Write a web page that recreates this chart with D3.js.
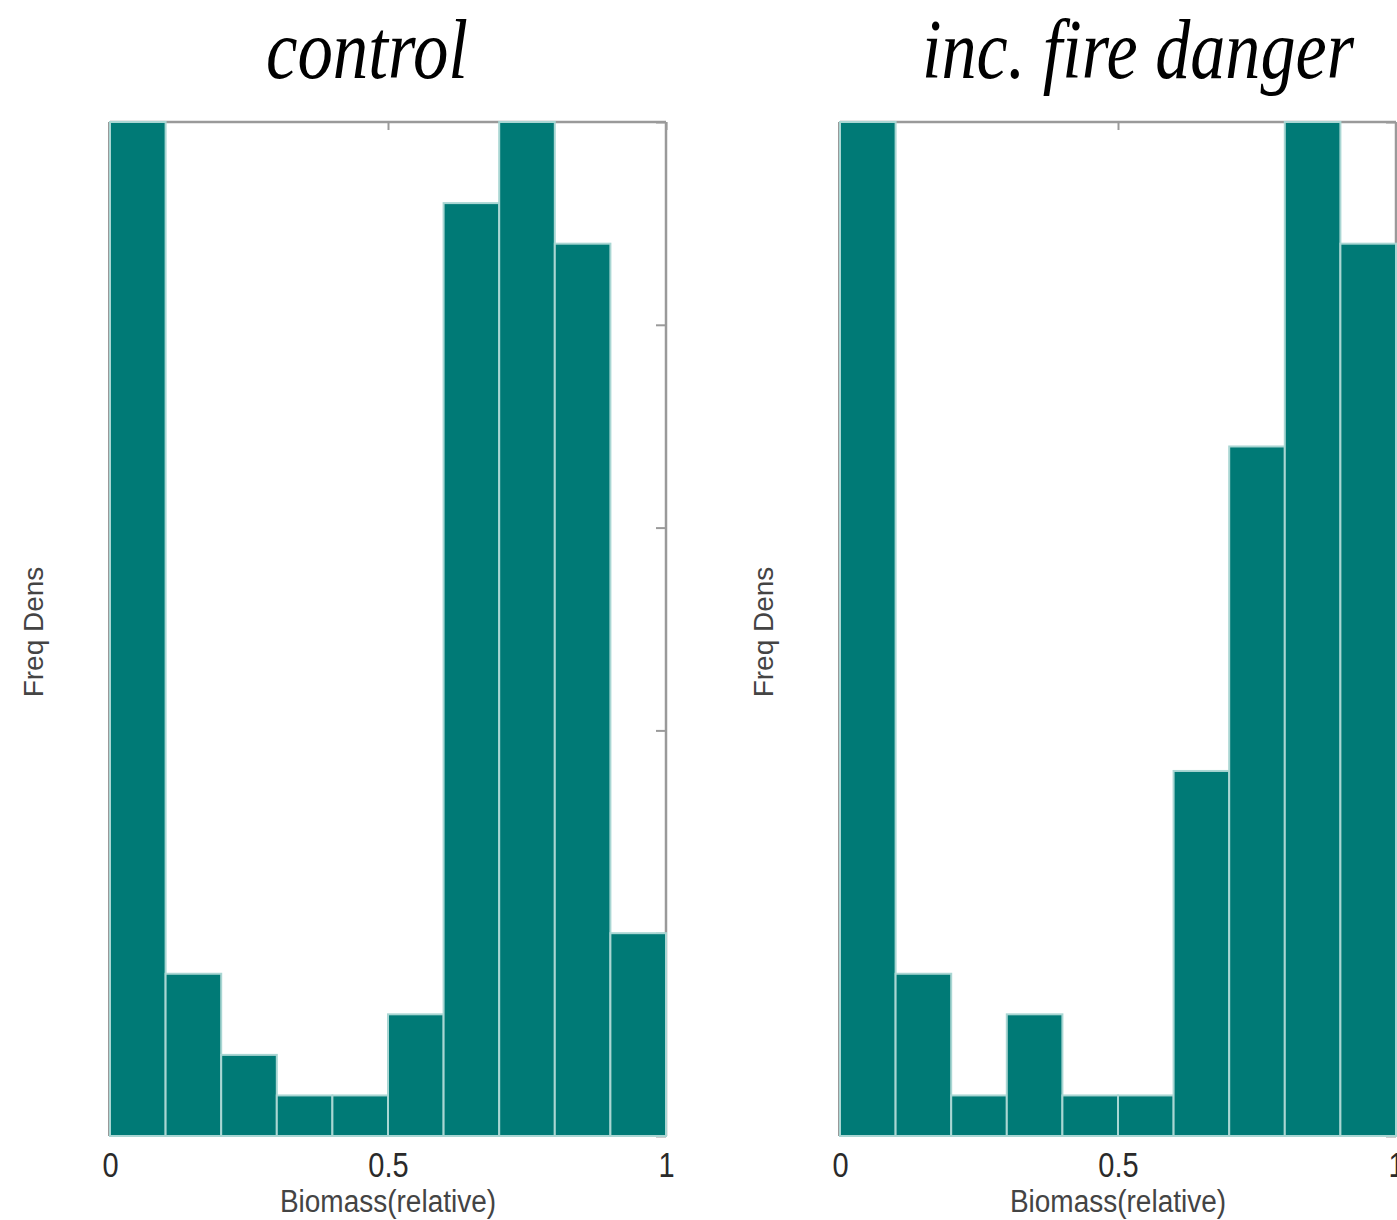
<!DOCTYPE html>
<html>
<head>
<meta charset="utf-8">
<script src="https://cdn.jsdelivr.net/npm/d3@7"></script>
<style>
  html, body { margin: 0; padding: 0; background: #fff; }
  svg { display: block; }
</style>
</head>
<body>
<svg id="chart" width="1397" height="1220"></svg>
<script>
// Histogram bins of relative biomass (10 equal bins on [0, 1])
const binEdges = [0, 0.1, 0.2, 0.3, 0.4, 0.5, 0.6, 0.7, 0.8, 0.9, 1.0];

// Frequency density per bin; bars that reach the top of the panel run off the axis range
const controlDensity = [2.5, 0.4, 0.2, 0.1, 0.1, 0.3, 2.3, 2.5, 2.2, 0.5];
const fireDensity    = [2.5, 0.4, 0.1, 0.3, 0.1, 0.1, 0.9, 1.7, 2.5, 2.2];

const panelTitles = ["control", "inc. fire danger"];
const xTickValues = [0, 0.5, 1];
const xTickLabels = ["0", "0.5", "1"];
const yTickValues = [0, 0.5, 1, 1.5, 2, 2.5];
const xLabel = "Biomass(relative)";
const yLabel = "Freq Dens";

const panels = [
  { title: panelTitles[0], values: controlDensity, left: 110 },
  { title: panelTitles[1], values: fireDensity, left: 840 }
];

const plotW = 556, plotTop = 122, plotBottom = 1136;
const barFill = "#007a76";
const frameColor = "#9a9a9a";

const svg = d3.select("#chart");

panels.forEach(p => {
  const x = d3.scaleLinear().domain([0, 1]).range([p.left, p.left + plotW]);
  const y = d3.scaleLinear().domain([0, 2.5]).range([plotBottom, plotTop]);

  const g = svg.append("g");

  // panel frame: top and right sides
  g.append("line")
    .attr("x1", x(0)).attr("x2", x(1))
    .attr("y1", y(2.5)).attr("y2", y(2.5))
    .attr("stroke", frameColor).attr("stroke-width", 2.5);
  g.append("line")
    .attr("x1", x(1)).attr("x2", x(1))
    .attr("y1", y(2.5)).attr("y2", y(0))
    .attr("stroke", frameColor).attr("stroke-width", 2.5);
  g.append("line")
    .attr("x1", x(0) - 1).attr("x2", x(0) - 1)
    .attr("y1", y(2.5)).attr("y2", y(0))
    .attr("stroke", "#777").attr("stroke-width", 1.5);

  // inward ticks on top and right sides
  const topAxis = g.append("g")
    .attr("transform", `translate(0,${y(2.5)})`)
    .call(d3.axisBottom(x).tickValues(xTickValues).tickSize(8).tickFormat(""));
  topAxis.select(".domain").remove();
  topAxis.selectAll(".tick line").attr("stroke", frameColor).attr("stroke-width", 2);

  const rightAxis = g.append("g")
    .attr("transform", `translate(${x(1)},0)`)
    .call(d3.axisLeft(y).tickValues(yTickValues).tickSize(10).tickFormat(""));
  rightAxis.select(".domain").remove();
  rightAxis.selectAll(".tick line").attr("stroke", frameColor).attr("stroke-width", 2);

  // histogram bars
  const bins = p.values.map((v, i) => ({ x0: binEdges[i], x1: binEdges[i + 1], v }));
  g.selectAll("rect.bar")
    .data(bins)
    .join("rect")
    .attr("class", "bar")
    .attr("x", d => x(d.x0))
    .attr("width", d => x(d.x1) - x(d.x0))
    .attr("y", d => y(Math.min(d.v, 2.5)))
    .attr("height", d => y(0) - y(Math.min(d.v, 2.5)))
    .attr("fill", barFill)
    .attr("stroke", "#a9d6d3")
    .attr("stroke-width", 2);

  // bottom tick labels
  const bottomAxis = g.append("g")
    .attr("transform", `translate(0,${y(0)})`)
    .call(d3.axisBottom(x).tickValues(xTickValues).tickSize(0)
      .tickFormat((d, i) => xTickLabels[i]));
  bottomAxis.select(".domain").remove();
  bottomAxis.selectAll(".tick text")
    .attr("font-family", "'Liberation Sans', Arial, sans-serif")
    .attr("font-size", 29)
    .attr("fill", "#2a2a2a")
    .attr("dy", null).attr("y", 0)
    .attr("transform", "translate(0,41) scale(1,1.2)");

  // axis titles
  g.append("text")
    .attr("transform", `translate(${x(0.5)},1212) scale(1,1.1)`)
    .attr("text-anchor", "middle")
    .attr("font-family", "'Liberation Sans', Arial, sans-serif")
    .attr("font-size", 28)
    .attr("fill", "#444")
    .text(xLabel);

  g.append("text")
    .attr("transform", `translate(${p.left - 67},${(plotTop + plotBottom) / 2 + 3}) rotate(-90)`)
    .attr("text-anchor", "middle")
    .attr("font-family", "'Liberation Sans', Arial, sans-serif")
    .attr("font-size", 28)
    .attr("fill", "#444")
    .text(yLabel);
});

// panel titles
const titleX = [367, 1138];
const titleLen = [202, 432];
svg.selectAll("text.title")
  .data(panelTitles)
  .join("text")
  .attr("class", "title")
  .attr("x", (d, i) => titleX[i])
  .attr("y", 78)
  .attr("text-anchor", "middle")
  .attr("font-family", "'Liberation Serif', 'DejaVu Serif', serif")
  .attr("font-style", "italic")
  .attr("font-size", 84)
  .attr("textLength", (d, i) => titleLen[i])
  .attr("lengthAdjust", "spacingAndGlyphs")
  .attr("fill", "#000")
  .text(d => d);
</script>
</body>
</html>
